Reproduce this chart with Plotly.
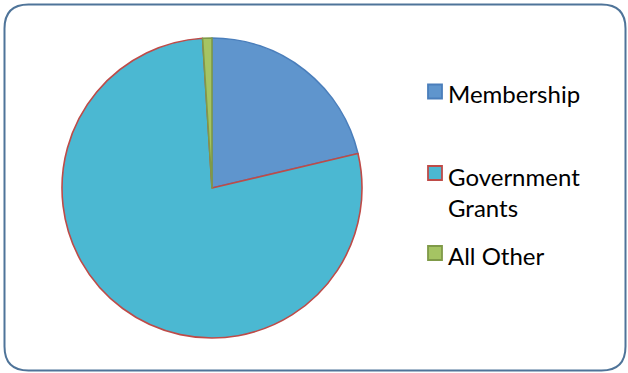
import plotly.graph_objects as go

labels = ["Membership", "Government<br>Grants", "All Other"]
values = [21.3, 77.7, 1.0]
fill_colors = ["#5F95CD", "#4BB8D2", "#A5C463"]
line_colors = ["#4A7EBB", "#BE4B48", "#7F9A48"]

W, H = 628, 373

def px(x):
    return x / W

def py(y):
    return 1 - y / H

fig = go.Figure()
fig.add_trace(go.Pie(
    labels=[l.replace("<br>", " ") for l in labels],
    values=values,
    sort=False,
    direction="clockwise",
    rotation=0,
    textinfo="none",
    marker=dict(colors=fill_colors, line=dict(color=line_colors, width=1.6)),
    domain=dict(x=[px(62), px(362)], y=[py(338), py(38)]),
    showlegend=False,
))

# Rounded chart border
x0, y0, x1, y1, r = 4.5, 4.5, 625.5, 370.5, 24
path = (
    f"M {px(x0 + r)},{py(y0)} L {px(x1 - r)},{py(y0)} "
    f"Q {px(x1)},{py(y0)} {px(x1)},{py(y0 + r)} "
    f"L {px(x1)},{py(y1 - r)} Q {px(x1)},{py(y1)} {px(x1 - r)},{py(y1)} "
    f"L {px(x0 + r)},{py(y1)} Q {px(x0)},{py(y1)} {px(x0)},{py(y1 - r)} "
    f"L {px(x0)},{py(y0 + r)} Q {px(x0)},{py(y0)} {px(x0 + r)},{py(y0)} Z"
)
shapes = [dict(type="path", path=path, xref="paper", yref="paper",
               line=dict(color="#4F7499", width=2), fillcolor="rgba(0,0,0,0)")]

# Manual legend
sq_centers = [91.5, 173, 253]
text_centers = [94, 192, 255]
annotations = []
for lab, fc, lc, sc, tc in zip(labels, fill_colors, line_colors, sq_centers, text_centers):
    shapes.append(dict(type="rect", xref="paper", yref="paper",
                       x0=px(428), x1=px(442), y0=py(sc + 7), y1=py(sc - 7),
                       fillcolor=fc, line=dict(color=lc, width=1.8)))
    annotations.append(dict(text=lab, x=px(446), y=py(tc), xref="paper", yref="paper",
                            xanchor="left", yanchor="middle", align="left",
                            showarrow=False,
                            font=dict(family="Lato", size=24, color="#000000")))

fig.update_layout(
    width=W, height=H,
    margin=dict(l=0, r=0, t=0, b=0),
    paper_bgcolor="white", plot_bgcolor="white",
    shapes=shapes, annotations=annotations,
)

fig.write_html("out.html")
